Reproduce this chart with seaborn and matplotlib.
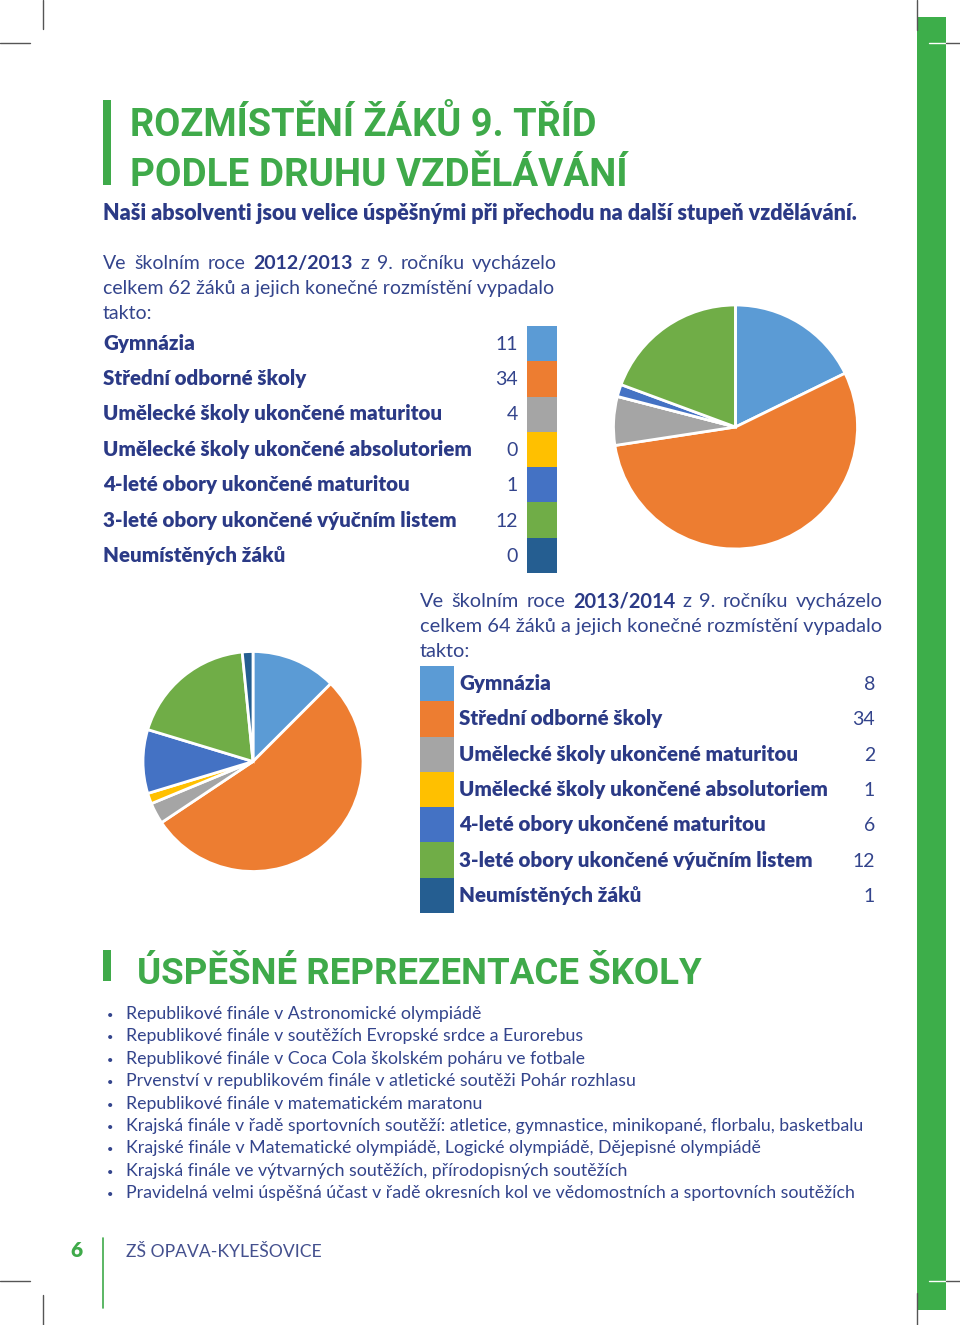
import matplotlib.pyplot as plt
import numpy as np
import seaborn as sns
from matplotlib.colors import ListedColormap
from matplotlib.patches import Rectangle
from matplotlib.lines import Line2D

categories = ["Gymnázia", "Střední odborné školy", "Umělecké školy ukončené maturitou",
              "Umělecké školy ukončené absolutoriem", "4-leté obory ukončené maturitou",
              "3-leté obory ukončené výučním listem", "Neumístěných žáků"]
values_2012 = [11, 34, 4, 0, 1, 12, 0]
values_2013 = [8, 34, 2, 1, 6, 12, 1]
colors = ["#5B9BD5", "#ED7D31", "#A5A5A5", "#FFC000", "#4472C4", "#70AD47", "#255E91"]

bullets = [
    "Republikové finále v Astronomické olympiádě",
    "Republikové finále v soutěžích Evropské srdce a Eurorebus",
    "Republikové finále v Coca Cola školském poháru ve fotbale",
    "Prvenství v republikovém finále v atletické soutěži Pohár rozhlasu",
    "Republikové finále v matematickém maratonu",
    "Krajská finále v řadě sportovních soutěží: atletice, gymnastice, minikopané, florbalu, basketbalu",
    "Krajské finále v Matematické olympiádě, Logické olympiádě, Dějepisné olympiádě",
    "Krajská finále ve výtvarných soutěžích, přírodopisných soutěžích",
    "Pravidelná velmi úspěšná účast v řadě okresních kol ve vědomostních a sportovních soutěžích",
]

sns.set_theme(style="white")
body = ["Lato", "DejaVu Sans"]
head = ["Roboto", "DejaVu Sans"]
plt.rcParams["font.family"] = body

W, H = 960, 1325
GREEN = "#3FAA4A"
NAVY = "#2B3A86"
TEXT = "#33448C"

fig = plt.figure(figsize=(W / 100, H / 100), dpi=100)
fig.patch.set_facecolor("white")
rend = fig.canvas.get_renderer()


def fx(x):
    return x / W


def fy(y):
    return 1 - y / H


def txt(x, y, s, **kw):
    kw.setdefault("va", "baseline")
    kw.setdefault("color", TEXT)
    return fig.text(fx(x), fy(y), s, **kw)


def width(t):
    return t.get_window_extent(renderer=rend).width


def fit(x, y, s, target, **kw):
    # shrink/grow font so the text spans the width seen in the reference
    t = txt(x, y, s, **kw)
    t.set_fontsize(t.get_fontsize() * target / width(t))
    return t


def justify(x0, x1, y, words, size):
    parts = [txt(x0, y, w, size=size, color=NAVY if b else TEXT,
                 weight="bold" if b else "normal") for w, b in words]
    ws = [width(p) for p in parts]
    gap = (x1 - x0 - sum(ws)) / (len(parts) - 1)
    x = x0
    for p, w in zip(parts, ws):
        p.set_x(fx(x))
        x += w + gap


def rect(x0, y0, x1, y1, color):
    fig.patches.append(Rectangle((fx(x0), fy(y1)), fx(x1) - fx(x0), fy(y0) - fy(y1),
                                 transform=fig.transFigure, color=color, lw=0))


def line(x0, y0, x1, y1, color="#555555", lw=1):
    fig.lines.append(Line2D([fx(x0), fx(x1)], [fy(y0), fy(y1)], transform=fig.transFigure,
                            color=color, lw=lw))


# right green strip + crop marks
rect(917, 17, 946, 1310, "#3DAE4A")
line(43, 0, 43, 29)
line(0, 43, 30, 43)
line(0, 1281, 30, 1281)
line(43, 1295, 43, 1325)
line(917, 0, 917, 30)
line(929, 43, 960, 43, color="white")
line(946, 43, 960, 43)
line(929, 1281, 960, 1281, color="white")
line(946, 1281, 960, 1281)
line(917, 1293, 917, 1325)

# title
rect(103, 100, 111, 185, GREEN)
fit(130, 136, "ROZMÍSTĚNÍ ŽÁKŮ 9. TŘÍD", 468, family=head, weight="bold", size=34, color=GREEN)
fit(130, 186, "PODLE DRUHU VZDĚLÁVÁNÍ", 497, family=head, weight="bold", size=34, color=GREEN)
fit(103, 220, "Naši absolventi jsou velice úspěšnými při přechodu na další stupeň vzdělávání.",
    759, weight="heavy", size=15, color=NAVY)


def para(x0, x1, ys, year, total, size):
    words = [("Ve", 0), ("školním", 0), ("roce", 0), (year, 1), ("z", 0), ("9.", 0),
             ("ročníku", 0), ("vycházelo", 0)]
    justify(x0, x1, ys[0], words, size)
    fit(x0, ys[1], f"celkem {total} žáků a jejich konečné rozmístění vypadalo", x1 - x0,
        size=size)
    txt(x0, ys[2], "takto:", size=size)


# 2012/2013 block
para(103, 557, [269, 294, 319], "2012/2013", 62, 14)

rows1 = [350, 385, 420, 456, 491, 527, 562]
for cat, v, yb in zip(categories, values_2012, rows1):
    txt(103, yb, cat, weight="heavy", size=14.8, color=NAVY)
    txt(518, yb, str(v), size=14, ha="right")

cmap = ListedColormap(colors)
sw1 = fig.add_axes([fx(527), fy(573), fx(557) - fx(527), fy(326) - fy(573)])
sns.heatmap(np.arange(7).reshape(-1, 1), cmap=cmap, cbar=False, xticklabels=False,
            yticklabels=False, ax=sw1, vmin=-0.5, vmax=6.5)

pie1 = fig.add_axes([fx(613), fy(549), fx(858) - fx(613), fy(305) - fy(549)])
pie1.pie(values_2012, colors=colors, startangle=90, counterclock=False,
         wedgeprops=dict(edgecolor="white", linewidth=2, clip_on=False))
pie1.set_xlim(-1, 1)
pie1.set_ylim(-1, 1)

# 2013/2014 block
para(420, 883, [607, 632, 657], "2013/2014", 64, 14.4)

rows2 = [690, 725, 761, 796, 831, 867, 902]
for cat, v, yb in zip(categories, values_2013, rows2):
    txt(459, yb, cat, weight="heavy", size=14.8, color=NAVY)
    txt(875, yb, str(v), size=14, ha="right")

sw2 = fig.add_axes([fx(420), fy(913), fx(454) - fx(420), fy(666) - fy(913)])
sns.heatmap(np.arange(7).reshape(-1, 1), cmap=cmap, cbar=False, xticklabels=False,
            yticklabels=False, ax=sw2, vmin=-0.5, vmax=6.5)

pie2 = fig.add_axes([fx(143), fy(872), fx(363) - fx(143), fy(651) - fy(872)])
pie2.pie(values_2013, colors=colors, startangle=90, counterclock=False,
         wedgeprops=dict(edgecolor="white", linewidth=2, clip_on=False))
pie2.set_xlim(-1, 1)
pie2.set_ylim(-1, 1)

# section 2
rect(103, 950, 111, 981, GREEN)
fit(137, 984, "ÚSPĚŠNÉ REPREZENTACE ŠKOLY", 565, family=head, weight="bold", size=34,
    color=GREEN)
for i, b in enumerate(bullets):
    yb = 1019 + i * 22.4
    txt(107, yb, "•", size=8, color=TEXT)
    txt(126, yb, b, size=12.8, color=TEXT)

# footer
txt(70, 1257, "6", weight="heavy", size=15, color=GREEN)
line(103, 1238, 103, 1308, color=GREEN, lw=1.2)
fit(126, 1257, "ZŠ OPAVA-KYLEŠOVICE", 195, size=14, color="#44508E")

fig.savefig("out.png", dpi=100, facecolor="white")
